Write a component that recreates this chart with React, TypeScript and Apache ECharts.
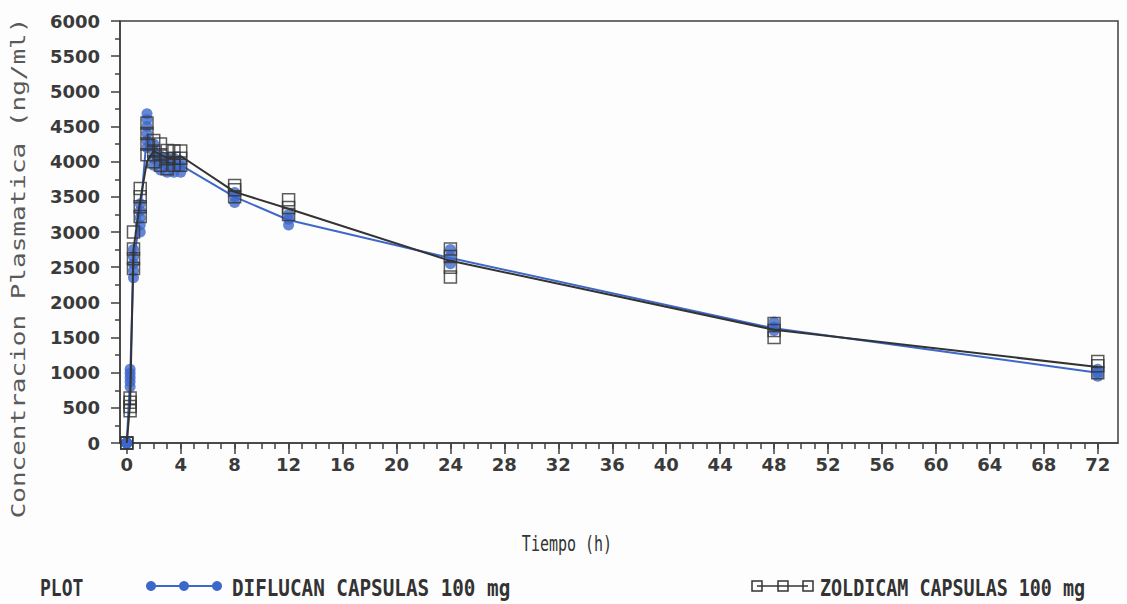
import React, { useEffect, useRef } from "react";
import * as echarts from "echarts";

// Sampling times (h)
const TIMES = [0, 0.25, 0.5, 1, 1.5, 2, 2.5, 3, 3.5, 4, 8, 12, 24, 48, 72];

// Mean curves (ng/ml)
const DIFLUCAN_MEAN = [0, 920, 2550, 3250, 4400, 4100, 4000, 3950, 3950, 3950, 3500, 3170, 2630, 1630, 1000];
const ZOLDICAM_MEAN = [0, 560, 2750, 3450, 4000, 4150, 4100, 4050, 4050, 4080, 3570, 3330, 2590, 1610, 1080];

// Individual subject values at each sampling time (ng/ml)
const DIFLUCAN_SUBJECTS = [
  [0, 0, 0, 0, 0],
  [800, 870, 930, 990, 1050],
  [2350, 2450, 2550, 2650, 2750],
  [3000, 3100, 3200, 3300, 3400],
  [4200, 4300, 4400, 4500, 4600, 4680],
  [3950, 4050, 4150, 4250],
  [3880, 3980, 4080],
  [3850, 3950, 4050],
  [3850, 3950, 4050],
  [3850, 3930, 4000],
  [3420, 3500, 3560],
  [3100, 3180, 3250],
  [2550, 2650, 2750],
  [1600, 1650, 1720],
  [950, 1000, 1050],
];
const ZOLDICAM_SUBJECTS = [
  [0, 0, 0],
  [460, 520, 580, 640],
  [2480, 2620, 2760, 3000],
  [3220, 3360, 3500, 3620],
  [4100, 4250, 4400, 4550],
  [4000, 4150, 4300],
  [3950, 4100, 4250],
  [3900, 4040, 4160],
  [3950, 4050, 4150],
  [3950, 4050, 4150],
  [3500, 3600, 3660],
  [3250, 3350, 3460],
  [2360, 2500, 2650, 2760],
  [1500, 1600, 1700],
  [1000, 1100, 1160],
];

const Y_MIN = 0;
const Y_MAX = 6000;
const Y_STEP = 500;
const X_MAJOR = Array.from({ length: 19 }, (_, i) => i * 4); // 0..72
const X_MINOR = Array.from({ length: 73 }, (_, i) => i); // 0..72

const BLUE = "#3d68c9";
const BLACK = "#333333";
const AXIS = "#3f3f3f";

function points(subjects: number[][]) {
  const out: number[][] = [];
  subjects.forEach((vals, i) => vals.forEach((v) => out.push([TIMES[i], v])));
  return out;
}

export default function App() {
  const ref = useRef<HTMLDivElement>(null);

  useEffect(() => {
    if (!ref.current) return;
    const chart = echarts.init(ref.current, undefined, { renderer: "svg" });
    const labelFont = {
      fontFamily: "DejaVu Sans",
      fontWeight: "bold" as const,
      fontSize: 18,
      color: "#3a3a3a",
    };
    const legendText = {
      fontFamily: "DejaVu Sans Mono",
      fontWeight: "bold",
      fontSize: 18,
      fill: "#333",
      align: "left",
      verticalAlign: "middle",
    };
    chart.setOption({
      animation: false,
      backgroundColor: "#fdfdfd",
      grid: {
        left: 120,
        top: 21,
        right: 9,
        bottom: 161,
        show: true,
        borderColor: AXIS,
        borderWidth: 1.5,
        backgroundColor: "transparent",
      },
      xAxis: [
        {
          type: "value",
          min: -0.5,
          max: 73.5,
          position: "bottom",
          splitLine: { show: false },
          axisLine: { show: true, onZero: false, lineStyle: { color: AXIS, width: 1.5 } },
          axisTick: { show: true, inside: false, length: 6, customValues: X_MINOR, lineStyle: { color: AXIS, width: 1.5 } },
          axisLabel: { show: true, margin: 12, customValues: X_MAJOR, ...labelFont },
        },
        {
          type: "value",
          min: -0.5,
          max: 73.5,
          position: "bottom",
          splitLine: { show: false },
          axisLine: { show: false, onZero: false },
          axisTick: { show: true, inside: false, length: 11, customValues: X_MAJOR, lineStyle: { color: AXIS, width: 1.5 } },
          axisLabel: { show: false },
        },
      ],
      yAxis: {
        type: "value",
        min: Y_MIN,
        max: Y_MAX,
        interval: Y_STEP,
        splitLine: { show: false },
        axisLine: { show: true, onZero: false, lineStyle: { color: AXIS, width: 1.5 } },
        axisTick: { show: true, inside: false, length: 9, lineStyle: { color: AXIS, width: 1.5 } },
        minorTick: { show: true, splitNumber: 2, length: 5, lineStyle: { color: AXIS, width: 1.5 } },
        axisLabel: { margin: 20, formatter: (v: number) => String(v), ...labelFont },
      },
      graphic: [
        {
          type: "text",
          x: 18,
          y: 268,
          rotation: Math.PI / 2,
          scaleX: 1.3,
          style: {
            text: "Concentracion Plasmatica (ng/ml)",
            fontFamily: "DejaVu Sans Mono",
            fontSize: 20,
            fill: "#5a5a5a",
            align: "center",
            verticalAlign: "middle",
          },
        },
        {
          type: "text",
          x: 567,
          y: 543,
          scaleY: 1.45,
          style: {
            text: "Tiempo (h)",
            fontFamily: "DejaVu Sans Mono",
            fontSize: 15,
            fill: "#333",
            align: "center",
            verticalAlign: "middle",
          },
        },
        { type: "text", x: 40, y: 588, scaleY: 1.25, style: { ...legendText, text: "PLOT" } },
        { type: "line", shape: { x1: 150, y1: 586, x2: 218, y2: 586 }, style: { stroke: BLUE, lineWidth: 2 } },
        { type: "circle", shape: { cx: 151, cy: 586, r: 5 }, style: { fill: BLUE } },
        { type: "circle", shape: { cx: 184, cy: 586, r: 5 }, style: { fill: BLUE } },
        { type: "circle", shape: { cx: 217, cy: 586, r: 5 }, style: { fill: BLUE } },
        { type: "text", x: 232, y: 588, scaleY: 1.25, scaleX: 1.07, style: { ...legendText, text: "DIFLUCAN CAPSULAS 100 mg" } },
        { type: "line", shape: { x1: 757, y1: 586, x2: 808, y2: 586 }, style: { stroke: BLACK, lineWidth: 1.5 } },
        { type: "rect", shape: { x: 752, y: 581, width: 10, height: 10 }, style: { fill: "none", stroke: BLACK, lineWidth: 1.5 } },
        { type: "rect", shape: { x: 778, y: 581, width: 10, height: 10 }, style: { fill: "none", stroke: BLACK, lineWidth: 1.5 } },
        { type: "rect", shape: { x: 803, y: 581, width: 10, height: 10 }, style: { fill: "none", stroke: BLACK, lineWidth: 1.5 } },
        { type: "text", x: 820, y: 588, scaleY: 1.25, scaleX: 1.02, style: { ...legendText, text: "ZOLDICAM CAPSULAS 100 mg" } },
      ],
      series: [
        {
          name: "DIFLUCAN CAPSULAS 100 mg",
          type: "scatter",
          xAxisIndex: 0,
          data: points(DIFLUCAN_SUBJECTS),
          symbol: "circle",
          symbolSize: 11,
          itemStyle: { color: BLUE },
          z: 2,
        },
        {
          name: "DIFLUCAN mean",
          type: "line",
          xAxisIndex: 0,
          data: TIMES.map((t, i) => [t, DIFLUCAN_MEAN[i]]),
          showSymbol: false,
          lineStyle: { color: BLUE, width: 2 },
          z: 3,
        },
        {
          name: "ZOLDICAM mean",
          type: "line",
          xAxisIndex: 0,
          data: TIMES.map((t, i) => [t, ZOLDICAM_MEAN[i]]),
          showSymbol: false,
          lineStyle: { color: BLACK, width: 2 },
          z: 4,
        },
        {
          name: "ZOLDICAM CAPSULAS 100 mg",
          type: "scatter",
          xAxisIndex: 0,
          data: points(ZOLDICAM_SUBJECTS),
          symbol: "rect",
          symbolSize: 12,
          itemStyle: { color: "rgba(255,255,255,0)", borderColor: BLACK, borderWidth: 1.5 },
          z: 5,
        },
      ],
    });
    return () => chart.dispose();
  }, []);

  return (
    <div
      ref={ref}
      style={{ position: "absolute", left: 0, top: 0, width: 1127, height: 604 }}
    />
  );
}
